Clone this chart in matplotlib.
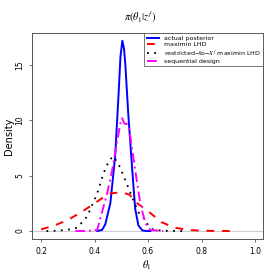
import matplotlib
matplotlib.use("Agg")
from matplotlib import pyplot as plt

# actual posterior
post_x = [0.41, 0.428, 0.44, 0.459, 0.477, 0.489, 0.497, 0.504, 0.51, 0.515, 0.526, 0.541,
          0.552, 0.564, 0.579, 0.595, 0.609]
post_y = [0.0, 0.1, 0.6, 2.5, 6.75, 12.0, 15.8, 17.2, 16.5, 15.1, 10.6, 5.5,
          2.0, 0.5, 0.05, 0.0, 0.0]

# maximin LHD
lhd_x = [0.20, 0.25, 0.30, 0.35, 0.40, 0.43, 0.46, 0.50, 0.53, 0.56, 0.60, 0.65,
         0.70, 0.75, 0.80, 0.85, 0.91]
lhd_y = [0.15, 0.5, 1.0, 1.7, 2.5, 3.0, 3.4, 3.5, 3.3, 2.5, 1.8, 0.8,
         0.3, 0.1, 0.03, 0.01, 0.0]

# restricted-to-X^f maximin LHD
rest_x = [0.22, 0.26, 0.297, 0.335, 0.372, 0.41, 0.433, 0.455, 0.47, 0.489, 0.515,
          0.545, 0.564, 0.583, 0.60, 0.62, 0.67, 0.73]
rest_y = [0.0, 0.03, 0.1, 0.3, 1.3, 3.4, 5.2, 6.4, 6.75, 6.1, 4.6,
          2.8, 1.7, 1.2, 0.55, 0.1, 0.02, 0.0]

# sequential design
seq_x = [0.328, 0.37, 0.41, 0.42, 0.447, 0.466, 0.485, 0.497, 0.503, 0.512, 0.52, 0.527,
         0.534, 0.552, 0.571, 0.59, 0.609, 0.657]
seq_y = [0.0, 0.0, 0.1, 1.0, 3.4, 5.5, 8.2, 9.8, 10.2, 9.7, 9.7, 9.4,
         8.5, 5.5, 2.5, 0.7, 0.1, 0.0]

frame_col = "#555555"
plt.rcParams["mathtext.fontset"] = "stix"

fig = plt.figure(figsize=(2.8, 2.8), dpi=100)
ax = fig.add_axes([32 / 280, 1 - 239 / 280, (263 - 32) / 280, (239 - 33) / 280])

ax.axhline(0, color="#cccccc", lw=0.8, zorder=0)
ax.plot(post_x, post_y, color="blue", lw=1.4, label="actual posterior")
ax.plot(lhd_x, lhd_y, color="red", lw=1.4, ls=(0, (4, 4)), label="maximin LHD")
ax.plot(rest_x, rest_y, color="black", lw=1.3, ls=(0, (1, 3)),
        label=r"restricted$-$to$-X^f$ maximin LHD")
ax.plot(seq_x, seq_y, color="magenta", lw=1.4, ls=(0, (5, 2, 1, 2)), label="sequential design")

ax.set_xlim(0.166, 1.03)
ax.set_ylim(-0.72, 17.9)
ax.set_xticks([0.2, 0.4, 0.6, 0.8, 1.0])
ax.set_xticklabels(["0.2", "0.4", "0.6", "0.8", "1.0"])
ax.set_yticks([0, 5, 10, 15])
ax.tick_params(axis="both", labelsize=5.5, length=2.5, width=0.6, color=frame_col, pad=3)
plt.setp(ax.get_yticklabels(), rotation=90, va="center")
for s in ax.spines.values():
    s.set_color(frame_col)
    s.set_linewidth(0.7)

fig.text(147 / 280, 1 - 265 / 280, r"$\theta_1$", ha="center", va="center", fontsize=7.5)
fig.text(9 / 280, 1 - 136 / 280, "Density", ha="center", va="center", rotation=90, fontsize=7)
fig.text(0.5, 1 - 17 / 280, r"$\pi(\theta_1|z^f)$", ha="center", va="center", fontsize=7.5)

leg = ax.legend(loc="upper right", fontsize=4.5, frameon=True, fancybox=False,
                borderaxespad=0, handlelength=1.9, labelspacing=0.12, borderpad=0.4,
                handletextpad=0.8)
leg.get_frame().set_edgecolor(frame_col)
leg.get_frame().set_linewidth(0.7)

fig.savefig("out.png", dpi=100)
